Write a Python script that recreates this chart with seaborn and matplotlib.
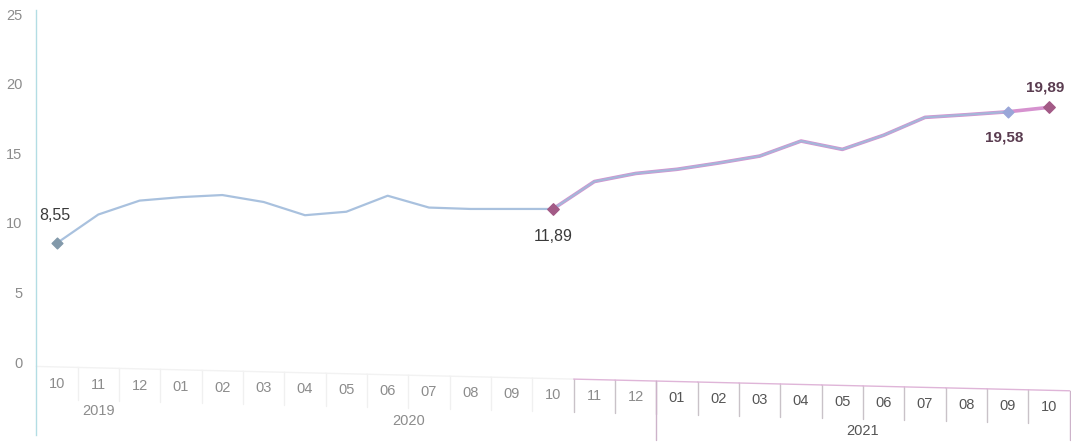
import matplotlib
matplotlib.use("Agg")
import matplotlib.pyplot as plt
import pandas as pd
import seaborn as sns

# Data (monthly values, 2019-10 .. 2021-10)
months = ["10", "11", "12",
          "01", "02", "03", "04", "05", "06", "07", "08", "09", "10", "11", "12",
          "01", "02", "03", "04", "05", "06", "07", "08", "09", "10"]
years = ["2019"] * 3 + ["2020"] * 12 + ["2021"] * 10

# long series (blue): 2019-10 .. 2021-09
blue_vals = [8.55, 10.6, 11.6, 11.85, 12.0, 11.5, 10.55, 10.8, 11.95, 11.1,
             11.0, 11.0, 11.0, 12.97, 13.55, 13.85, 14.3, 14.8, 15.88, 15.28,
             16.3, 17.58, 17.77, 17.98]
# short series (pink): 2020-10 .. 2021-10
pink_vals = [11.0, 12.97, 13.55, 13.85, 14.3, 14.8, 15.88, 15.28, 16.3, 17.58,
             17.77, 17.98, 18.3]
pink_start = 12

point_labels = ["8,55", "11,89", "19,58", "19,89"]

df_blue = pd.DataFrame({"idx": range(len(blue_vals)), "value": blue_vals})
df_pink = pd.DataFrame({"idx": range(pink_start, pink_start + len(pink_vals)),
                        "value": pink_vals})

sns.set_theme(style="white")
plt.rcParams["font.family"] = ["Liberation Sans", "DejaVu Sans"]

fig = plt.figure(figsize=(10.71, 4.45), dpi=100)
ax = fig.add_axes([0.0339, 0.0222, 0.9649, 0.9555])

blue = "#a0bbdb"
pink = "#d692cf"

sns.lineplot(data=df_pink, x="idx", y="value", ax=ax, color=pink, lw=2.6)
sns.lineplot(data=df_blue, x="idx", y="value", ax=ax, color=blue, lw=1.6, alpha=0.9)

# end markers
ax.scatter([df_blue.idx.iloc[0]], [df_blue.value.iloc[0]], marker="D", s=30,
           color="#8299aa", zorder=5)
ax.scatter([df_blue.idx.iloc[-1]], [df_blue.value.iloc[-1]], marker="D", s=30,
           color="#9aa6d8", zorder=5)
ax.scatter([df_pink.idx.iloc[0], df_pink.idx.iloc[-1]],
           [df_pink.value.iloc[0], df_pink.value.iloc[-1]], marker="D", s=34,
           color="#a35a86", zorder=6)

ax.annotate(point_labels[0], (df_blue.idx.iloc[0], df_blue.value.iloc[0]),
            xytext=(-2, 28), textcoords="offset pixels", ha="center", va="center",
            fontsize=11.5, color="#3a3a3a")
ax.annotate(point_labels[1], (df_pink.idx.iloc[0], df_pink.value.iloc[0]),
            xytext=(0, -28), textcoords="offset pixels", ha="center", va="center",
            fontsize=11.5, color="#3a3a3a")
ax.annotate(point_labels[2], (df_blue.idx.iloc[-1], df_blue.value.iloc[-1]),
            xytext=(-4, -26), textcoords="offset pixels", ha="center", va="center",
            fontsize=11, color="#5a3c50", fontweight="bold")
ax.annotate(point_labels[3], (df_pink.idx.iloc[-1], df_pink.value.iloc[-1]),
            xytext=(-4, 20), textcoords="offset pixels", ha="center", va="center",
            fontsize=11, color="#5a3c50", fontweight="bold")

ax.set_xlim(-0.5, len(months) - 0.5)
ax.set_ylim(-5.25, 25.3)
ax.set_yticks([0, 5, 10, 15, 20, 25])
ax.set_yticklabels(["0", "5", "10", "15", "20", "25"])
ax.set_xticks([])
ax.set_xlabel("")
ax.set_ylabel("")
ax.tick_params(axis="y", length=0, pad=10, labelsize=10.5, labelcolor="#8c8c8c")
for s in ["top", "right", "bottom"]:
    ax.spines[s].set_visible(False)
ax.spines["left"].set_color("#b3dde4")
ax.spines["left"].set_linewidth(1.0)

# category axis drawn as a small table under the plot
skew = -0.07
for i, m in enumerate(months):
    col = "#555555" if years[i] == "2021" else "#8c8c8c"
    ax.text(i, -1.55 + skew * i, m, ha="center", va="center", fontsize=10.5,
            color=col, clip_on=False)
    # cell separators
    sep_col = "#c9c2c8" if i >= 12 else "#f0f0f0"
    if i < len(months) - 1:
        ax.plot([i + 0.5, i + 0.5], [-0.35 + skew * (i + 0.5), -2.7 + skew * (i + 0.5)],
                color=sep_col, lw=1, clip_on=False)
    # row top border
    top_col = "#dfb5d8" if i >= 13 else "#f2f2f2"
    ax.plot([i - 0.5, i + 0.5], [-0.35 + skew * (i - 0.5), -0.35 + skew * (i + 0.5)],
            color=top_col, lw=1, clip_on=False)

year_y = {"2019": -3.5, "2020": -4.2, "2021": -4.95}
df_cat = pd.DataFrame({"idx": range(len(months)), "year": years})
for yr, grp in df_cat.groupby("year"):
    col = "#555555" if yr == "2021" else "#8c8c8c"
    ax.text(grp.idx.mean(), year_y[yr], yr, ha="center", va="center",
            fontsize=10.5, color=col, clip_on=False)

# year box edges for 2021
for xb in [14.5, 24.5]:
    ax.plot([xb, xb], [-0.35 + skew * xb, -5.6], color="#cdb3ca", lw=1, clip_on=False)

fig.savefig("out.png", dpi=100)
